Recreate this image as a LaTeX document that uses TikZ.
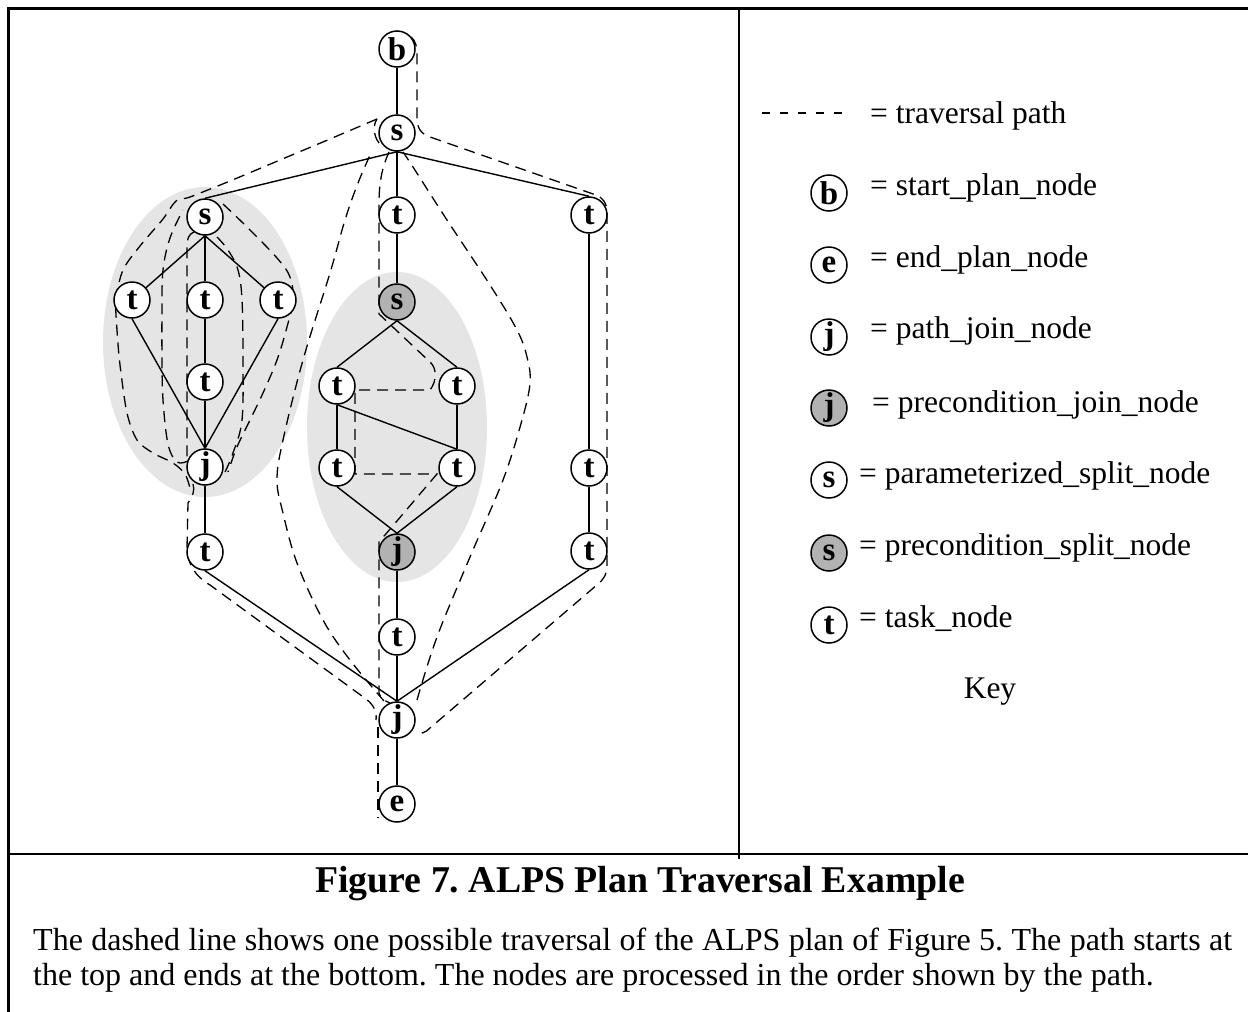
\documentclass[tikz,border=0pt]{standalone}
\usepackage{fontspec}
\setmainfont{Liberation Serif}
\frenchspacing
\pgfdeclarelayer{back}
\pgfdeclarelayer{mid}
\pgfsetlayers{back,mid,main}
\definecolor{shade}{gray}{0.70}
\definecolor{cloud}{gray}{0.90}

\begin{document}
\begin{tikzpicture}[x=1pt,y=-1pt,
  pn/.style={circle, draw, line width=1.5pt, minimum size=36pt, inner sep=0pt,
             fill=white, font=\fontsize{33}{33}\selectfont\bfseries},
  pre/.style={pn, fill=shade},
  edge/.style={line width=1.4pt},
  trav/.style={line width=1.3pt, dash pattern=on 11pt off 7pt},
  keytrav/.style={line width=1.3pt, dash pattern=on 8pt off 10pt},
  keytext/.style={anchor=base west, inner sep=0pt, font=\fontsize{31.5}{36}\selectfont},
  bodytext/.style={anchor=base west, inner sep=0pt, font=\fontsize{32}{35}\selectfont},
  frame/.style={line width=3pt}]
\useasboundingbox (0,0) rectangle (1248,1012);

% frame
\draw[frame] (7,8) -- (1248,8);
\draw[frame] (8,7) -- (8,1012);
\draw[line width=2.5pt] (8,854) -- (1248,854);
\draw[line width=2pt] (739,8) -- (739,859);

% shaded groups
\begin{pgfonlayer}{back}
  \fill[cloud] (205,342) ellipse [x radius=102pt, y radius=155pt];
  \fill[cloud] (397,427) ellipse [x radius=90pt, y radius=155pt];
\end{pgfonlayer}

% plan nodes
\node[pn] (b)  at (397,49)  {b};
\node[pn] (s0) at (397,133) {s};
\node[pn] (tm1) at (397,215) {t};
\node[pn] (tr1) at (589,215) {t};
\node[pn] (ls)  at (205,217) {s};
\node[pn] (lt1) at (132,300) {t};
\node[pn] (lt2) at (205,300) {t};
\node[pn] (lt3) at (278,300) {t};
\node[pn] (lt4) at (205,382) {t};
\node[pn] (lj)  at (205,467) {j};
\node[pn] (lt5) at (205,552) {t};
\node[pre] (ms) at (397,302) {s};
\node[pn] (mt1) at (337,386) {t};
\node[pn] (mt2) at (457,386) {t};
\node[pn] (mt3) at (337,468) {t};
\node[pn] (mt4) at (457,468) {t};
\node[pre] (mj) at (397,552) {j};
\node[pn] (mt5) at (397,637) {t};
\node[pn] (tr2) at (589,468) {t};
\node[pn] (tr3) at (589,551) {t};
\node[pn] (j0) at (397,720) {j};
\node[pn] (e)  at (397,804) {e};

% plan edges
\draw[edge] (b) -- (s0);
\draw[edge] (s0) -- (tm1);
\draw[edge] (s0.south) -- (ls.north);
\draw[edge] (s0.south) -- (tr1.north);
\draw[edge] (ls.south) -- (lt1);
\draw[edge] (ls) -- (lt2);
\draw[edge] (ls.south) -- (lt3);
\draw[edge] (lt1.south) -- (lj.north);
\draw[edge] (lt2) -- (lt4);
\draw[edge] (lt4) -- (lj);
\draw[edge] (lt3.south) -- (lj.north);
\draw[edge] (lj) -- (lt5);
\draw[edge] (lt5.south) -- (j0.north);
\draw[edge] (tm1) -- (ms);
\draw[edge] (ms.south) -- (mt1.north);
\draw[edge] (ms.south) -- (mt2.north);
\draw[edge] (mt1) -- (mt3);
\draw[edge] (mt2) -- (mt4);
\draw[edge] (mt1.south) -- (mt4.north);
\draw[edge] (mt3.south) -- (mj.north);
\draw[edge] (mt4.south) -- (mj.north);
\draw[edge] (mj) -- (mt5);
\draw[edge] (mt5) -- (j0);
\draw[edge] (j0) -- (e);
\draw[edge] (tr1) -- (tr2);
\draw[edge] (tr2) -- (tr3);
\draw[edge] (tr3.south) -- (j0.north);

% traversal path
\begin{pgfonlayer}{mid}
  % start, right-hand branch
  \draw[trav] (411,37) .. controls (416,41) and (417,47) .. (417,56) -- (417,118)
    .. controls (417,128) and (421,134) .. (430,137) -- (596,195)
    .. controls (603,198) and (607,203) .. (607,212) -- (607,566)
    .. controls (607,574) and (604,579) .. (598,584) -- (430,728)
    .. controls (425,733) and (420,735) .. (416,731);
  % back up on the right
  \draw[trav] plot[smooth, tension=0.6] coordinates {(417,700) (437,637) (470,557)
    (503,480) (522,420) (530,383) (527,357) (517,330) (490,285) (447,220) (413,167) (403,152)};
  % middle branch through the precondition split
  \draw[trav] (389,152) .. controls (381,170) and (379,185) .. (379,205) -- (379,314)
    -- (430,362) .. controls (437,368) and (437,381) .. (430,390) -- (355,390)
    -- (355,474) -- (437,474) -- (385,535) -- (379,541) -- (379,693)
    .. controls (380,698) and (385,701) .. (390,703);
  % back up on the left
  \draw[trav] plot[smooth, tension=0.6] coordinates {(384,701) (350,660) (323,620)
    (297,563) (283,513) (277,480) (283,440) (303,360) (330,273) (345,220) (358,183) (371,153)};
  % into the left group, first branch
  \draw[trav] (379,143) .. controls (373,135) and (373,125) .. (377,119);
  \draw[trav] plot[smooth, tension=0.5] coordinates {(377,119) (330,139) (280,160)
    (230,181) (190,197) (176,201) (163,219) (140,246) (123,270) (116,300) (117,330)
    (120,365) (127,413) (137,440) (153,453) (173,463) (185,474) (190,488)};
  \draw[trav] plot[smooth, tension=0.6] coordinates {(188,461) (177,462) (168,444)
    (163,400) (162,360) (162,310) (163,270) (170,238) (183,210)};
  \draw[trav] (194,232) .. controls (189,234) and (187,238) .. (187,248) -- (187,458);
  \draw[trav] plot[smooth, tension=0.6] coordinates {(225,472) (233,453) (242,420)
    (243,360) (242,300) (238,270) (228,250) (217,237)};
  \draw[trav] plot[smooth, tension=0.6] coordinates {(223,204) (247,227) (277,258)
    (290,277) (293,300) (287,327) (277,360) (263,393) (250,420) (237,447) (228,472)};
  % out of the left group down to the final join
  \draw[trav] (193,484) .. controls (195,490) and (193,496) .. (188,503) -- (187,548)
    .. controls (188,565) and (195,576) .. (210,585) -- (366,699)
    .. controls (374,705) and (377,712) .. (376,720);
  % to the end node
  \draw[trav] (378,727) -- (378,818);
\end{pgfonlayer}

% key
\draw[keytrav] (762,113) -- (850,113);
\node[keytext] (k0) at (870,123) {= traversal path};
\node[pn] (kb) at (829,193) {b};
\node[keytext] (k1) at (870,195) {= start\_plan\_node};
\node[pn] (ke) at (829,265) {e};
\node[keytext] (k2) at (870,267) {= end\_plan\_node};
\node[pn] (kj) at (829,337) {j};
\node[keytext] (k3) at (870,338) {= path\_join\_node};
\node[pre] (kpj) at (829,408) {j};
\node[keytext] (k4) at (872,412) {= precondition\_join\_node};
\node[pn] (ks) at (829,480) {s};
\node[keytext] (k5) at (859,483) {= parameterized\_split\_node};
\node[pre] (kps) at (829,553) {s};
\node[keytext] (k6) at (859,555) {= precondition\_split\_node};
\node[pn] (kt) at (829,625) {t};
\node[keytext] (k7) at (859,627) {= task\_node};
\node[anchor=base, inner sep=0pt, font=\fontsize{31.5}{36}\selectfont] (key) at (990,698) {Key};

% caption
\node[anchor=base, inner sep=0pt, font=\fontsize{37.8}{40}\selectfont\bfseries] (title) at (640,892)
  {Figure 7. ALPS Plan Traversal Example};
\node[bodytext] (cap1) at (33,950)
  {\makebox[1199pt][s]{The dashed line shows one possible traversal of the ALPS plan of Figure 5. The path starts at}};
\node[bodytext] (cap2) at (33,985)
  {the top and ends at the bottom. The nodes are processed in the order shown by the path.};
\end{tikzpicture}
\end{document}
